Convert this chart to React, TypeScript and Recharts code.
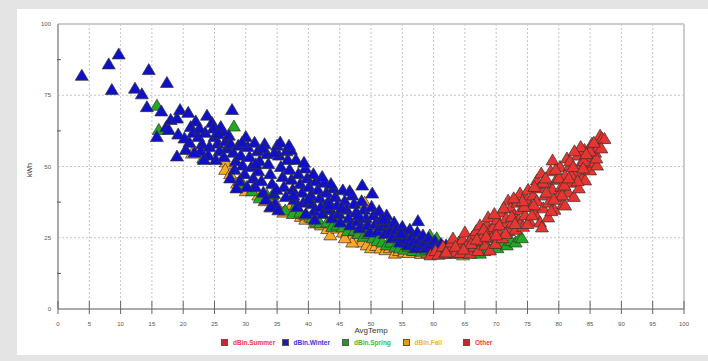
import { ScatterChart, Scatter, XAxis, YAxis, CartesianGrid, ReferenceLine } from "recharts";

// [AvgTemp, kWh]
const winter: number[][] = [
  [3.8, 82], [8.1, 86], [9.7, 89.5], [8.6, 77], [14.5, 84], [12.3, 77.5], [13.4, 75.5], [17.4, 79.5],
  [14.2, 71], [16.5, 69.5], [15.8, 60.5], [17.3, 64], [17.7, 63], [18, 66.5], [19, 67], [19.5, 70],
  [20.8, 69], [22, 66], [23.8, 68], [24.6, 65.5], [27.8, 70], [19.2, 61.4], [21.2, 64], [21.6, 62],
  [19, 53.7], [20.4, 56],
  [20.2, 60], [21, 58.5], [22.4, 60.5], [23, 58], [23.5, 62], [22.8, 55.5], [24.2, 57], [25, 60.5],
  [25.5, 58.2], [24, 54], [25.8, 55.5], [26.3, 62.5], [26.8, 59], [25.2, 52.5], [26.5, 53.5], [23.3, 52.5],
  [21.8, 55], [26, 64], [27, 56.5], [24.8, 63.5],
  [27.3, 61], [27.6, 58], [28, 55], [28.4, 52], [28.2, 49], [28.8, 57.5], [29.2, 54], [29.5, 50.5],
  [29.8, 47.5], [30, 60.5], [30.3, 57], [30.6, 53.5], [30.9, 50], [31.2, 46], [31.5, 43], [31.4, 58.5],
  [31.9, 55.5], [32.2, 52], [32, 48.5], [32.5, 45], [32.8, 41], [29, 45], [30.2, 43], [27.5, 46], [28.5, 42.5],
  [33, 58], [33.4, 54.5], [33.6, 51], [33.9, 47.5], [34.2, 44], [34.5, 40.5], [34.7, 37], [33.2, 38.5],
  [35, 57.5], [35.3, 54], [35.6, 50], [35.9, 46.5], [36.1, 43], [36.4, 39.5], [35.5, 58.6], [36.7, 52.5],
  [37, 49], [37.3, 45.5], [37.5, 42], [37.8, 38.5], [38.2, 36], [36.5, 55.5], [38, 52.5], [38.4, 47.5],
  [38.7, 44], [39, 41], [39.2, 37.5], [37.2, 56], [34, 36], [35.2, 34.8],
  [39.5, 49.5], [39.8, 46], [40.1, 43], [40.4, 40], [40.6, 37], [40.9, 34.5], [41.2, 45], [41.5, 42],
  [41.8, 39], [42, 36], [42.3, 33.5], [42.6, 44.5], [42.9, 41], [43.2, 38], [43.5, 35], [43.8, 32],
  [44, 42.5], [44.3, 39.5], [44.6, 36.5], [44.9, 33.5], [45.1, 30.5], [45.5, 41.8], [45.8, 38], [46.1, 35],
  [46.4, 32], [46.7, 29.5], [39.6, 33.5], [41, 31.5],
  [47, 40], [47.3, 37], [47.6, 34], [47.9, 31], [48.2, 28.5], [48.6, 43.5], [48.5, 38], [48.9, 35],
  [49.2, 32], [49.5, 29.5], [49.8, 27], [50.2, 40.7], [50.1, 36], [50.4, 33], [50.7, 30], [51, 27.5],
  [51.3, 34.5], [51.6, 31.5], [51.9, 29], [52.2, 26.5], [52.5, 33], [52.8, 30], [53.1, 27.5], [53.4, 25],
  [53.7, 30.5], [54, 28], [54.3, 25.5], [54.6, 23.5], [55, 29], [55.3, 26.5], [55.6, 24.5], [55.9, 22.5],
  [56.2, 28], [56.5, 25.5], [56.8, 23.5], [57.1, 21.5], [57.5, 31], [57.4, 27], [57.7, 24.5], [58, 22.5],
  [58.3, 26], [58.6, 23.5], [58.9, 21.5], [59.2, 25], [59.5, 22.5], [59.8, 20.8], [60.2, 24], [60.5, 22],
  [60.8, 20.5], [61.2, 23], [61.5, 21.2], [62, 22.5],
  [22.6, 63.5], [25.6, 61.5], [29.4, 58.5], [32.7, 56.5], [34.6, 55], [36.9, 57.5], [39.3, 51.5], [40.8, 47.5],
  [42.2, 46.5], [43.6, 44], [46.6, 41.5], [31.6, 51], [34.9, 42], [37.6, 40], [40, 38.5], [43.3, 36.5],
  [45.3, 35.5], [48, 33], [52, 31.5], [54.8, 26.5],
];

const spring: number[][] = [
  [15.8, 71.5], [16.1, 63], [23.2, 53], [28.1, 64.2], [33.4, 40], [31, 41.5], [29.5, 44], [32.2, 39],
  [34.5, 36.5], [36.3, 34.7], [37.5, 33.5], [38.7, 34], [39.5, 33], [40.6, 32], [41.3, 30.5], [41.9, 30.2],
  [43, 30.5], [43.8, 29], [44.6, 29.5], [45.5, 28.8], [46.3, 27.5], [47.4, 27.7], [48, 26.5], [48.8, 25.5],
  [49.5, 26.5], [50.3, 25], [51, 24], [51.8, 23.5], [52.5, 22.5], [53.2, 23.5], [53.9, 22], [54.6, 21.5],
  [55.3, 21], [56, 22], [56.7, 20.5], [57.4, 21.5], [58.1, 20.3], [58.8, 21], [59.4, 26], [59.7, 23.5],
  [60.3, 20.2], [61, 21.5], [61.7, 20], [62.4, 21], [63, 19.8], [63.7, 20.8], [64.4, 19.6], [65.1, 20.5],
  [65.8, 19.6], [66.5, 21], [67.4, 19.6], [68.1, 20.5], [68.8, 21.4], [69.5, 22], [70.2, 21.5], [70.9, 23],
  [71.7, 22.5], [72.4, 24], [73.1, 23.5], [73.8, 25.3], [74.1, 25], [42.5, 35], [44, 33], [46.5, 31],
  [49.2, 29], [55.6, 23.3], [60.5, 25], [64, 23.5], [67, 23], [38, 36.5],
];

const fall: number[][] = [
  [21.4, 54.7], [26.8, 51.6], [26.7, 49], [27.5, 47.5], [28.6, 44.2], [29, 43.5], [30, 41.5], [31.2, 42.5],
  [32, 40], [33, 38], [33.9, 35.8], [34.2, 40], [35, 36.5], [36, 34], [37, 35.5], [37.9, 34.7],
  [38.8, 32.5], [39.5, 31.5], [40.3, 32.3], [41, 30.2], [42, 29.5], [43, 28.2], [43.5, 26], [44.6, 28.4],
  [45.5, 27], [46.2, 26.7], [47, 25.5], [47.8, 24], [48.5, 23.5], [49, 37.5], [49.3, 22.5], [50, 21.5],
  [50.8, 22.3], [51.5, 21.4], [52.3, 20.8], [53, 21.5], [53.8, 19.6], [54.5, 20.5], [55.3, 20], [56, 19.8],
  [57, 20.5], [58, 19.5], [59, 19.8], [60, 19.4], [61, 20], [62.5, 19.5], [64.7, 19], [47, 23.5], [45.8, 25],
];

const summer: number[][] = [
  [59.5, 19], [60.3, 20.5], [60.8, 19.2], [61.5, 22], [61.8, 19.6], [62.5, 21], [62.8, 23.5], [63.1, 24.9],
  [63.5, 20], [64, 22.5], [64.3, 19.8], [64.6, 24.5], [65, 27], [65.3, 21.5], [65.6, 23.5], [65.8, 19.6],
  [66.2, 25.5], [66.5, 22], [66.8, 27.5], [67.1, 20.5], [67.4, 29.5], [67.6, 24], [67.9, 26], [68.2, 22.5],
  [68.5, 30], [68.7, 32.3], [68.9, 27.5], [69, 20.7], [69.3, 25], [69.6, 29], [69.9, 23], [70.2, 31.5],
  [70.5, 27], [70.8, 34], [71, 25], [71.3, 29.5], [71.6, 32], [71.9, 38.2], [72, 27.5], [72.3, 35.5],
  [72.6, 30.5], [72.9, 33], [73.1, 28], [73.4, 37.5], [73.8, 40.7], [73.6, 31.5], [74, 35], [74.3, 29],
  [74.6, 33], [74.9, 38.5], [75.1, 42], [75.3, 31], [75.6, 36], [75.9, 40], [76.2, 33.5], [76.5, 45.3],
  [76.5, 38], [76.8, 42.5], [77, 30.5], [77.3, 28.8], [77.2, 47.7], [77.5, 35.5], [77.8, 40], [78.1, 44],
  [78.3, 32.3], [78.4, 37.5], [78.7, 48.5], [79, 52.3], [79, 42], [79.3, 35], [79.6, 45.5], [79.9, 39.5],
  [80.2, 50], [80.4, 43], [80.7, 37], [81, 36.5], [81, 47], [81.3, 53], [81.5, 41], [81.8, 50.5],
  [82.1, 44.5], [82.4, 39.5], [82.7, 48], [83, 54], [83.2, 42.5], [83.5, 51], [83.8, 46], [84.1, 56],
  [84.2, 45.3], [84.5, 49], [84.8, 53.5], [85, 48.8], [85.3, 58.2], [85.5, 51.5], [85.8, 55], [86.1, 50.5],
  [86.3, 57], [86.6, 61], [86.9, 60], [87.3, 59.8], [86, 53], [84, 52], [82, 47], [80, 46],
  [78, 41], [76, 36.5], [74.5, 36], [72.5, 32.5], [70.5, 29.5], [68, 28], [66, 23], [63.5, 22],
  [62, 20], [80.5, 40], [83, 45], [75, 30], [71.5, 26.5], [81.8, 52], [79.5, 49], [77.5, 44.5],
  [85, 55.5], [83.5, 57], [86.8, 56.5], [82.5, 55.5],
  [64.8, 21], [66.9, 24.5], [68.4, 25.5], [70, 26], [71.2, 35.5], [73, 30], [74.2, 38], [76.1, 43],
  [77.9, 46], [79.2, 38.5], [80.9, 43.5], [82.3, 50], [84.4, 54.5], [85.6, 58.5], [75.7, 33], [78.8, 34.5],
  [81.6, 46], [83.9, 49.5], [69.7, 33.5], [72.8, 39],
];

const other: number[][] = [];

const xTicks = [0, 5, 10, 15, 20, 25, 30, 35, 40, 45, 50, 55, 60, 65, 70, 75, 80, 85, 90, 95, 100];
const yTicks = [0, 12.5, 25, 37.5, 50, 62.5, 75, 87.5, 100];
const yLabels = [0, 25, 50, 75, 100];

const legendItems = [
  { name: "dBin.Summer", box: "#c22a2a", text: "#ee3b3b" },
  { name: "dBin.Winter", box: "#1a1ac0", text: "#3535d8" },
  { name: "dBin.Spring", box: "#229a22", text: "#35c035" },
  { name: "dBin.Fall", box: "#e69a10", text: "#f5b030" },
  { name: "Other", box: "#c22a2a", text: "#ee3b3b" },
];

const PLOT_LEFT = 58;
const PLOT_BOTTOM = 309;
const FONT = "'Liberation Sans', Arial, sans-serif";

const toPoints = (d: number[][]) => d.map(([x, y]) => ({ x, y }));

function triangle(fill: string) {
  return (props: any) => {
    const { cx, cy } = props;
    return (
      <polygon
        points={`${cx},${cy - 6} ${cx + 6.5},${cy + 5} ${cx - 6.5},${cy + 5}`}
        fill={fill}
        stroke="#333"
        strokeWidth={0.7}
      />
    );
  };
}

function XTick(props: any) {
  const { x, payload } = props;
  return (
    <g>
      <line x1={x} x2={x} y1={PLOT_BOTTOM - 8} y2={PLOT_BOTTOM + 5} stroke="#666" strokeWidth={1} />
      <text x={x} y={PLOT_BOTTOM + 17} textAnchor="middle" fontSize={6} fill="#555" fontFamily={FONT}>
        {payload.value}
      </text>
    </g>
  );
}

function YTick(props: any) {
  const { y, payload } = props;
  const v = payload.value;
  if (yLabels.includes(v)) {
    return (
      <text x={PLOT_LEFT - 7} y={y + 2} textAnchor="end" fontSize={6} fill="#555" fontFamily={FONT}>
        {v}
      </text>
    );
  }
  return <line x1={PLOT_LEFT - 1} x2={PLOT_LEFT + 3} y1={y} y2={y} stroke="#555" strokeWidth={1} />;
}

export default function App() {
  return (
    <div style={{ position: "absolute", left: 0, top: 0, width: 708, height: 361, background: "#e4e4e4", overflow: "hidden" }}>
      <div style={{ position: "absolute", left: 17, top: 9, width: 691, height: 346, background: "#fff" }} />
      <div style={{ position: "absolute", left: 0, top: 0 }}>
        <ScatterChart width={708} height={361} margin={{ top: 24, right: 24, bottom: 22, left: 0 }}>
          <CartesianGrid
            strokeDasharray="2 2"
            stroke="#c4c4c4"
            verticalValues={xTicks.slice(1, -1)}
            horizontalValues={[25, 50, 75]}
          />
          <XAxis
            type="number"
            dataKey="x"
            domain={[0, 100]}
            ticks={xTicks}
            interval={0}
            height={30}
            tickLine={false}
            axisLine={{ stroke: "#aaa", strokeWidth: 2 }}
            tick={<XTick />}
          />
          <YAxis
            type="number"
            dataKey="y"
            domain={[0, 100]}
            ticks={yTicks}
            interval={0}
            width={58}
            tickLine={false}
            axisLine={{ stroke: "#aaa", strokeWidth: 2 }}
            tick={<YTick />}
          />
          <ReferenceLine y={100} stroke="#ccc" strokeWidth={2} />
          <ReferenceLine x={100} stroke="#ccc" strokeWidth={2} />
          <Scatter name="dBin.Fall" data={toPoints(fall)} fill="#ffa726" shape={triangle("#ffa726")} isAnimationActive={false} />
          <Scatter name="dBin.Spring" data={toPoints(spring)} fill="#22a822" shape={triangle("#22a822")} isAnimationActive={false} />
          <Scatter name="dBin.Winter" data={toPoints(winter)} fill="#1010c8" shape={triangle("#1010c8")} isAnimationActive={false} />
          <Scatter name="dBin.Summer" data={toPoints(summer)} fill="#e8352f" shape={triangle("#e8352f")} isAnimationActive={false} />
          <Scatter name="Other" data={toPoints(other)} fill="#e8352f" shape={triangle("#e8352f")} isAnimationActive={false} />
          <text x={371} y={333} textAnchor="middle" fontSize={8} fill="#333" fontFamily={FONT}>
            AvgTemp
          </text>
          <text
            x={32}
            y={170}
            textAnchor="middle"
            fontSize={7}
            fill="#333"
            fontFamily={FONT}
            transform="rotate(-90 32 170)"
          >
            kWh
          </text>
        </ScatterChart>
      </div>
      <div style={{ position: "absolute", left: 221, top: 339, display: "flex", fontFamily: FONT, fontSize: 6.5, fontWeight: "bold" }}>
        {legendItems.map((it) => (
          <div key={it.name} style={{ width: 60.5, display: "flex", alignItems: "center" }}>
            <span style={{ width: 5, height: 5, background: it.box, border: "0.5px solid #555", marginRight: 5, display: "inline-block" }} />
            <span style={{ color: it.text }}>{it.name}</span>
          </div>
        ))}
      </div>
    </div>
  );
}
